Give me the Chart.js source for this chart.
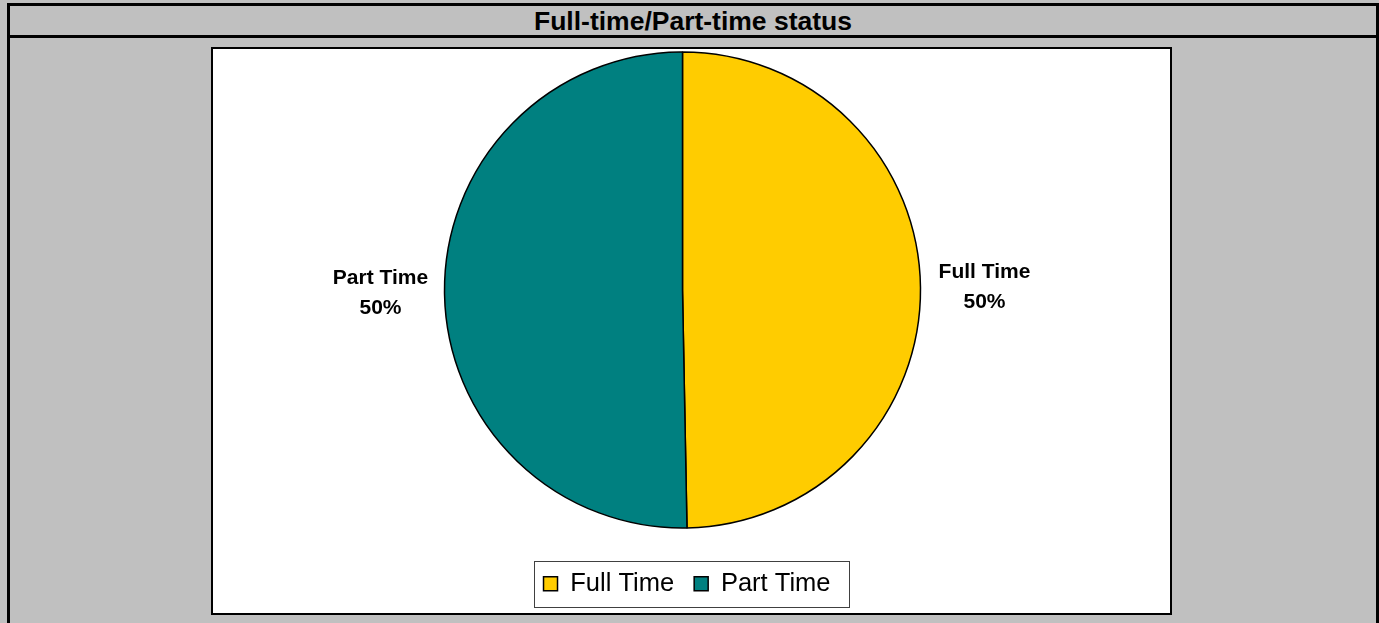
<!DOCTYPE html>
<html>
<head>
<meta charset="utf-8">
<title>Full-time/Part-time status</title>
<script src="https://cdn.jsdelivr.net/npm/chart.js@4.4.1/dist/chart.umd.min.js"></script>
<style>
  html, body { margin: 0; padding: 0; }
  body {
    width: 1379px; height: 623px; overflow: hidden; position: relative;
    background: #c0c0c0;
    font-family: "Liberation Sans", Arial, sans-serif;
  }
  #frame {
    position: absolute; left: 7px; top: 3px;
    width: 1366px; height: 660px;
    border: 3px solid #000;
  }
  #title {
    height: 29px; border-bottom: 3px solid #000;
    text-align: center; font-weight: bold; font-size: 26.5px; line-height: 31px; color: #000;
  }
  #plot {
    position: absolute; left: 211px; top: 47px;
    width: 957px; height: 564px;
    border: 2px solid #000; background: #fff;
  }
  #plot canvas { display: block; }
</style>
</head>
<body>
<div id="frame"><div id="title">Full-time/Part-time status</div></div>
<div id="plot"><canvas id="statusChart" width="957" height="564"></canvas></div>

<script>
// chart data
const categories = ['Full Time', 'Part Time'];
const shares = [49.7, 50.3];

const fontFamily = '"Liberation Sans", Arial, sans-serif';

// pie sits higher (and a bit more left) than the default layout would put it
const liftPie = {
  id: 'liftPie',
  afterLayout(chart) {
    const area = chart.chartArea;
    area.top = 482 - area.bottom;
    area.right -= 9;
    area.height = area.bottom - area.top;
    area.width = area.right - area.left;
  }
};

// "Full Time / 50%" labels outside each slice
const sliceLabels = {
  id: 'sliceLabels',
  afterDatasetsDraw(chart) {
    const ctx = chart.ctx;
    const meta = chart.getDatasetMeta(0);
    const total = shares.reduce((a, b) => a + b, 0);
    ctx.save();
    ctx.font = 'bold 21px ' + fontFamily;
    ctx.fillStyle = '#000';
    ctx.textAlign = 'center';
    ctx.textBaseline = 'middle';
    meta.data.forEach((arc, i) => {
      const p = arc.getProps(['x', 'y', 'startAngle', 'endAngle', 'outerRadius'], true);
      const mid = (p.startAngle + p.endAngle) / 2;
      const dist = p.outerRadius + 64;
      const lx = p.x + Math.cos(mid) * dist;
      const ly = p.y + Math.sin(mid) * dist;
      ctx.fillText(chart.data.labels[i], lx, ly - 15);
      ctx.fillText(Math.round(shares[i] / total * 100) + '%', lx, ly + 15);
    });
    ctx.restore();
  }
};

// thin frame round the legend
const legendFrame = {
  id: 'legendFrame',
  afterDraw(chart) {
    const boxes = chart.legend && chart.legend.legendHitBoxes;
    if (!boxes || !boxes.length) return;
    const left = Math.min(...boxes.map(b => b.left)) - 10;
    const right = Math.max(...boxes.map(b => b.left + b.width)) + 18;
    const mid = boxes[0].top + boxes[0].height / 2;
    const ctx = chart.ctx;
    ctx.save();
    ctx.strokeStyle = '#404040';
    ctx.lineWidth = 1;
    ctx.strokeRect(Math.round(left) + 0.5, Math.round(mid - 23) + 0.5, Math.round(right - left), 46);
    ctx.restore();
  }
};

new Chart(document.getElementById('statusChart').getContext('2d'), {
  type: 'pie',
  data: {
    labels: categories,
    datasets: [{
      data: shares,
      backgroundColor: ['#ffcc00', '#008080'],
      borderColor: '#000',
      borderWidth: 1.5,
      radius: 238
    }]
  },
  options: {
    responsive: false,
    animation: false,
    layout: { padding: { left: 0, right: 9, top: 0, bottom: 6.5 } },
    plugins: {
      legend: {
        position: 'bottom',
        labels: {
          font: { family: fontFamily, size: 25.5 },
          color: '#000',
          boxWidth: 14,
          boxHeight: 14,
          padding: 20
        }
      },
      tooltip: { enabled: false }
    }
  },
  plugins: [liftPie, sliceLabels, legendFrame]
});
</script>
</body>
</html>
